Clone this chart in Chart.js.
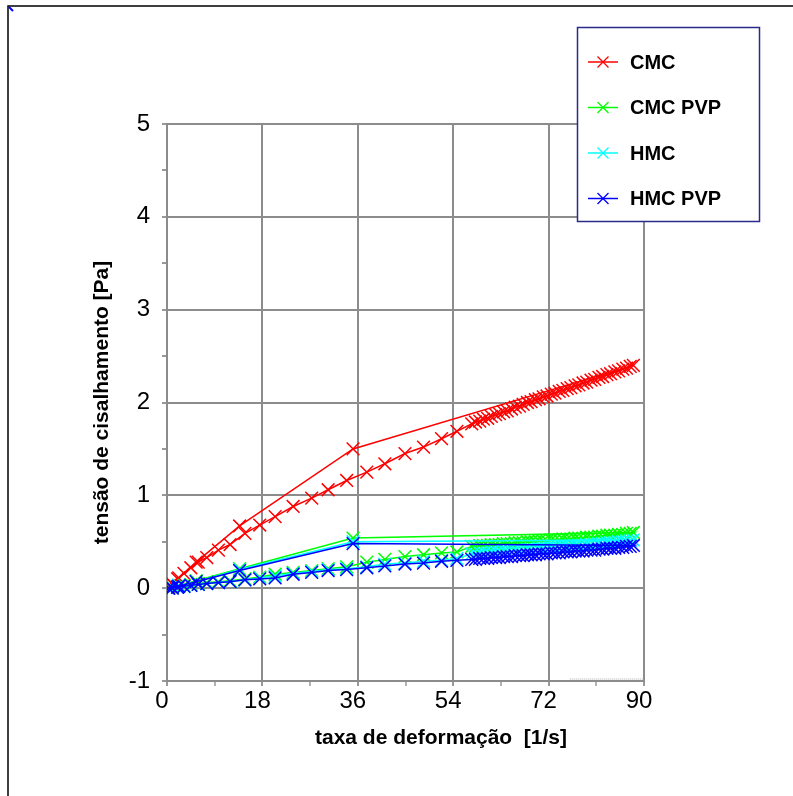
<!DOCTYPE html>
<html>
<head>
<meta charset="utf-8">
<script src="https://cdn.jsdelivr.net/npm/chart.js@4.4.1/dist/chart.umd.min.js"></script>
<style>
  html, body { margin: 0; padding: 0; background: #fff; }
  #wrap { position: relative; width: 793px; height: 796px; }
</style>
</head>
<body>
<div id="wrap"><canvas id="c"></canvas></div>
<script>
// ---- data ----
const seriesNames = ['CMC', 'CMC PVP', 'HMC', 'HMC PVP'];
const seriesColors = ['#ff0000', '#00ff00', '#00ffff', '#0000ff'];

// increasing ramp, sparse part
const upX = [0.3, 1.0, 2.0, 3.2, 4.5, 5.9, 7.5, 9.7, 11.9, 14.7,
             17.5, 20.4, 23.8, 27.3, 30.4, 33.9, 37.7, 41.1, 44.9, 48.4,
             51.8, 54.7];
// increasing ramp, dense part
const denseX = [57.5, 58.2, 59.0, 59.7, 60.5, 61.2, 62.0, 62.7, 63.5, 64.2,
                65.0, 65.7, 66.5, 67.2, 68.0, 68.7, 69.5, 70.2, 71.0, 71.7,
                72.5, 73.2, 74.0, 74.7, 75.5, 76.2, 77.0, 77.7, 78.5, 79.2,
                80.0, 80.7, 81.5, 82.2, 83.0, 83.7, 84.5, 85.2, 86.0, 86.7,
                87.4, 88.0];
// decreasing ramp
const downX = [35.1, 13.7, 5.5, 2.2, 0.9, 0.3];

const cmcUp = [0.02, 0.05, 0.10, 0.16, 0.22, 0.28, 0.33, 0.41, 0.47, 0.59,
               0.68, 0.77, 0.88, 0.97, 1.06, 1.16, 1.25, 1.34, 1.45, 1.52,
               1.61, 1.69];
const cmcDense = [1.77, 1.79, 1.80, 1.82, 1.83, 1.85, 1.87, 1.88, 1.90, 1.91,
                  1.93, 1.95, 1.96, 1.98, 2.00, 2.01, 2.03, 2.04, 2.06, 2.07,
                  2.09, 2.10, 2.12, 2.13, 2.15, 2.16, 2.18, 2.19, 2.21, 2.22,
                  2.24, 2.25, 2.27, 2.28, 2.30, 2.31, 2.33, 2.34, 2.36, 2.37,
                  2.39, 2.40];
const cmcDown = [1.50, 0.67, 0.28, 0.11, 0.05, 0.02];

const cmcPvpUp = [0.00, 0.01, 0.02, 0.03, 0.04, 0.05, 0.06, 0.07, 0.08, 0.10,
                  0.12, 0.15, 0.17, 0.19, 0.21, 0.23, 0.28, 0.31, 0.34, 0.36,
                  0.38, 0.39];
const cmcPvpDense = [0.45, 0.45, 0.46, 0.46, 0.46, 0.47, 0.47, 0.47, 0.48, 0.48,
                     0.48, 0.49, 0.49, 0.49, 0.50, 0.50, 0.50, 0.51, 0.51, 0.51,
                     0.52, 0.52, 0.52, 0.53, 0.53, 0.53, 0.54, 0.54, 0.54, 0.55,
                     0.55, 0.55, 0.56, 0.56, 0.57, 0.57, 0.57, 0.58, 0.58, 0.59,
                     0.59, 0.60];
const cmcPvpDown = [0.54, 0.21, 0.08, 0.03, 0.01, 0.00];

const hmcUp = [0.00, 0.01, 0.01, 0.02, 0.03, 0.04, 0.05, 0.06, 0.07, 0.09,
               0.11, 0.13, 0.16, 0.18, 0.20, 0.21, 0.23, 0.26, 0.27, 0.29,
               0.30, 0.32];
const hmcDense = [0.37, 0.37, 0.38, 0.38, 0.38, 0.39, 0.39, 0.39, 0.40, 0.40,
                  0.40, 0.41, 0.41, 0.41, 0.42, 0.42, 0.42, 0.43, 0.43, 0.43,
                  0.44, 0.44, 0.44, 0.45, 0.45, 0.45, 0.46, 0.46, 0.46, 0.47,
                  0.47, 0.47, 0.48, 0.48, 0.49, 0.49, 0.49, 0.50, 0.50, 0.51,
                  0.51, 0.52];
const hmcDown = [0.50, 0.20, 0.07, 0.03, 0.01, 0.00];

const hmcPvpUp = [0.00, 0.00, 0.01, 0.02, 0.03, 0.04, 0.05, 0.06, 0.07, 0.09,
                  0.10, 0.11, 0.15, 0.17, 0.19, 0.20, 0.22, 0.24, 0.26, 0.27,
                  0.29, 0.30];
const hmcPvpDense = [0.31, 0.31, 0.32, 0.32, 0.32, 0.33, 0.33, 0.33, 0.34, 0.34,
                     0.34, 0.35, 0.35, 0.35, 0.36, 0.36, 0.36, 0.37, 0.37, 0.37,
                     0.38, 0.38, 0.38, 0.39, 0.39, 0.39, 0.40, 0.40, 0.40, 0.41,
                     0.41, 0.41, 0.42, 0.42, 0.43, 0.43, 0.43, 0.44, 0.44, 0.45,
                     0.45, 0.46];
const hmcPvpDown = [0.48, 0.19, 0.07, 0.02, 0.01, 0.00];

const xMajorTicks = [0, 18, 36, 54, 72, 90];
const yMajorTicks = [-1, 0, 1, 2, 3, 4, 5];
const xTitle = 'taxa de deformação  [1/s]';
const yTitle = 'tensão de cisalhamento [Pa]';

// ---- build datasets ----
const allX = upX.concat(denseX, downX);
function pts(up, dense, down) {
  const ys = up.concat(dense, down);
  return allX.map((x, i) => ({ x: x, y: ys[i] }));
}
const seriesY = [
  [cmcUp, cmcDense, cmcDown],
  [cmcPvpUp, cmcPvpDense, cmcPvpDown],
  [hmcUp, hmcDense, hmcDown],
  [hmcPvpUp, hmcPvpDense, hmcPvpDown]
];
const FONT = '"Liberation Sans", Arial, Helvetica, sans-serif';

const datasets = seriesNames.map((name, i) => ({
  label: name,
  data: pts(seriesY[i][0], seriesY[i][1], seriesY[i][2]),
  showLine: true,
  borderColor: seriesColors[i],
  backgroundColor: seriesColors[i],
  borderWidth: 1.5,
  pointStyle: 'crossRot',
  pointRadius: 9,
  pointBorderWidth: 1.5,
  pointBorderColor: seriesColors[i],
  tension: 0,
  order: 3 - i
}));

const decorPlugin = {
  id: 'decor',
  afterDraw(chart) {
    const ctx = chart.ctx;
    ctx.save();
    // outer frame (left and top lines)
    ctx.strokeStyle = '#000';
    ctx.lineWidth = 1.5;
    ctx.beginPath();
    ctx.moveTo(8, 796); ctx.lineTo(8, 6); ctx.lineTo(793, 6);
    ctx.stroke();
    ctx.strokeStyle = '#0000ff';
    ctx.lineWidth = 2;
    ctx.beginPath(); ctx.moveTo(9, 7); ctx.lineTo(13, 11); ctx.stroke();

    // faint dotted segment on the bottom axis near the right end
    const xs = chart.scales.x, ys = chart.scales.y;
    ctx.strokeStyle = '#b0b0b0';
    ctx.lineWidth = 1;
    ctx.setLineDash([1, 1]);
    ctx.beginPath();
    ctx.moveTo(xs.getPixelForValue(76), ys.getPixelForValue(-1) - 2);
    ctx.lineTo(xs.getPixelForValue(90), ys.getPixelForValue(-1) - 2);
    ctx.stroke();
    ctx.setLineDash([]);

    // x axis title
    ctx.fillStyle = '#000';
    ctx.font = 'bold 21px ' + FONT;
    ctx.textAlign = 'center';
    ctx.textBaseline = 'alphabetic';
    ctx.fillText(xTitle, 441, 744);

    // legend box
    const bx = 577, by = 27, bw = 182, bh = 194;
    ctx.fillStyle = '#fff';
    ctx.fillRect(bx, by, bw, bh);
    ctx.strokeStyle = '#2a2a8a';
    ctx.lineWidth = 1.5;
    ctx.strokeRect(bx + 0.5, by + 0.5, bw, bh);
    const rowY = [62, 107.5, 153, 198.5];
    ctx.font = 'bold 20px ' + FONT;
    ctx.textAlign = 'left';
    ctx.textBaseline = 'middle';
    seriesNames.forEach((name, i) => {
      const y = rowY[i];
      ctx.strokeStyle = seriesColors[i];
      ctx.lineWidth = 1.5;
      ctx.beginPath(); ctx.moveTo(588, y); ctx.lineTo(618, y); ctx.stroke();
      ctx.lineWidth = 1.3;
      ctx.beginPath();
      ctx.moveTo(597.5, y - 5.5); ctx.lineTo(608.5, y + 5.5);
      ctx.moveTo(597.5, y + 5.5); ctx.lineTo(608.5, y - 5.5);
      ctx.stroke();
      ctx.fillStyle = '#000';
      ctx.fillText(name, 630, y + 1);
    });
    ctx.restore();
  }
};

new Chart(document.getElementById('c'), {
  type: 'scatter',
  data: { datasets: datasets },
  options: {
    responsive: true,
    maintainAspectRatio: false,
    animation: false,
    layout: { padding: { left: 0, top: 124, right: 149, bottom: 0 } },
    plugins: { legend: { display: false }, tooltip: { enabled: false } },
    scales: {
      x: {
        type: 'linear',
        min: 0, max: 90,
        afterFit(scale) { scale.height = 115; },
        afterBuildTicks(scale) {
          const t = [];
          for (let v = 0; v <= 90; v += 9) t.push({ value: v });
          scale.ticks = t;
        },
        ticks: {
          autoSkip: false, maxRotation: 0, minRotation: 0,
          color: '#000',
          font: { family: FONT, size: 24 },
          padding: 1,
          labelOffset: -5,
          callback: (v) => xMajorTicks.includes(v) ? String(v) : ''
        },
        grid: {
          color: (c) => (c.tick && xMajorTicks.includes(c.tick.value) && c.tick.value !== 0) ? '#8c8c8c' : 'rgba(0,0,0,0)',
          lineWidth: 2,
          drawTicks: true,
          tickLength: 5,
          tickWidth: 1,
          tickColor: (c) => (c.tick && xMajorTicks.includes(c.tick.value)) ? '#333' : '#666'
        },
        border: { display: true, color: '#8c8c8c', width: 2 }
      },
      y: {
        type: 'linear',
        min: -1, max: 5,
        afterFit(scale) { scale.width = 167; },
        afterBuildTicks(scale) {
          const t = [];
          for (let k = -2; k <= 10; k++) t.push({ value: k / 2 });
          scale.ticks = t;
        },
        ticks: {
          autoSkip: false,
          color: '#000',
          font: { family: FONT, size: 24 },
          padding: 12,
          callback: (v) => yMajorTicks.includes(v) ? String(v) : ''
        },
        grid: {
          color: (c) => (c.tick && yMajorTicks.includes(c.tick.value) && c.tick.value !== -1) ? '#8c8c8c' : 'rgba(0,0,0,0)',
          lineWidth: 2,
          drawTicks: true,
          tickLength: 5,
          tickWidth: 1,
          tickColor: '#333'
        },
        border: { display: true, color: '#8c8c8c', width: 2 },
        title: {
          display: true,
          text: yTitle,
          color: '#000',
          font: { family: FONT, size: 21, weight: 'bold' },
          padding: { top: 90, bottom: 0 }
        }
      }
    }
  },
  plugins: [decorPlugin]
});
</script>
</body>
</html>
